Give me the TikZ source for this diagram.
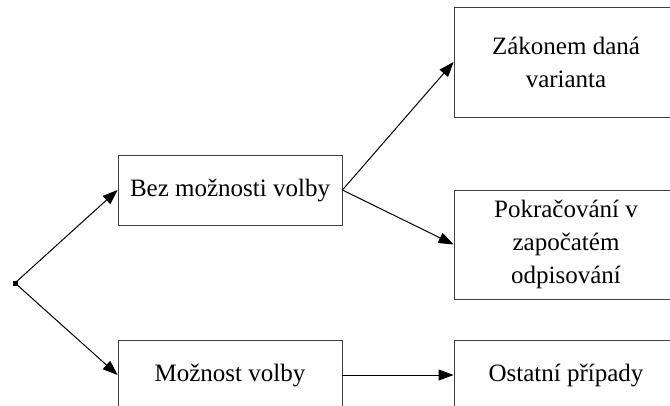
\documentclass[tikz,border=0pt]{standalone}
\usepackage{fontspec}
\setmainfont{Liberation Serif}
\usetikzlibrary{arrows.meta}
\tikzset{
  box/.style={draw=black!75,line width=0.8pt,minimum width=224pt,align=center,
    font=\fontsize{25}{33}\selectfont,inner sep=2pt},
  arr/.style={-{Triangle[length=15pt,width=11pt]},line width=1pt}
}
\begin{document}
\begin{tikzpicture}[x=1pt,y=-1pt]
    \clip (0,0) rectangle (670,405);
    \node[fill,minimum size=5pt,inner sep=0pt] (start) at (15,283) {};
    \node[box,minimum height=70pt] (bez) at (230,190) {Bez možnosti volby};
    \node[box,minimum height=70pt] (moz) at (230,375) {Možnost volby};
    \node[box,minimum height=110pt] (zak) at (566,62) {Zákonem daná\\varianta};
    \node[box,minimum height=109pt] (pok) at (566,244.5) {Pokračování v\\započatém\\odpisování};
    \node[box,minimum height=70pt] (ost) at (566,375) {Ostatní případy};
    \draw[arr] (start.center) -- (bez.west);
    \draw[arr] (start.center) -- (moz.west);
    \draw[arr] (bez.east) -- (zak.west);
    \draw[arr] (bez.east) -- (pok.west);
    \draw[arr] (moz.east) -- (ost.west);
  \end{tikzpicture}
\end{document}
